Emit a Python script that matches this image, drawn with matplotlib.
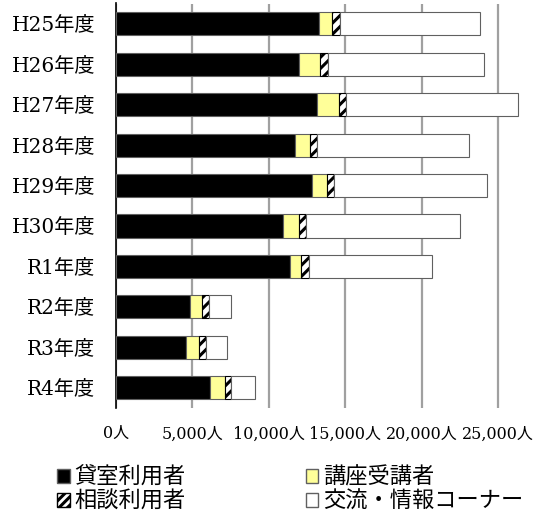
import matplotlib
matplotlib.use("Agg")
import matplotlib.pyplot as plt
from matplotlib.patches import Patch
import numpy as np

plt.rcParams['font.family'] = ['DejaVu Serif', 'Noto Sans CJK JP', 'DejaVu Sans']
plt.rcParams['hatch.linewidth'] = 2.2

# data (people per year)
years = ['H25年度', 'H26年度', 'H27年度', 'H28年度', 'H29年度',
         'H30年度', 'R1年度', 'R2年度', 'R3年度', 'R4年度']
rental = [13300, 11980, 13130, 11735, 12825, 10905, 11365, 4865, 4600, 6150]
lecture = [800, 1350, 1440, 940, 960, 1070, 720, 740, 850, 960]
consult = [530, 550, 500, 455, 460, 460, 565, 480, 440, 415]
exchange = [9160, 10210, 11235, 9970, 10010, 10055, 8030, 1415, 1350, 1570]

series_names = ['貸室利用者', '講座受講者', '相談利用者', '交流・情報コーナー']
xticks = [0, 5000, 10000, 15000, 20000, 25000]
xtick_labels = ['0人', '5,000人', '10,000人', '15,000人', '20,000人', '25,000人']

fig = plt.figure(figsize=(5.42, 5.20), dpi=100)
ax = fig.add_axes([116 / 542, 1 - 408 / 520, (541 - 116) / 542, (408 - 3.5) / 520])

y = np.arange(len(years))
h = 0.57
edge = '#606060'
left = np.zeros(len(years))
ax.barh(y, rental, h, left=left, color='black', edgecolor=edge, linewidth=0.8, zorder=3)
left += rental
ax.barh(y, lecture, h, left=left, color='#ffff99', edgecolor=edge, linewidth=0.8, zorder=3)
left += lecture
ax.barh(y, consult, h, left=left, color='white', edgecolor='black', hatch='///',
        linewidth=0.8, zorder=3)
left += consult
ax.barh(y, exchange, h, left=left, color='white', edgecolor=edge, linewidth=0.8, zorder=3)

ax.set_ylim(len(years) - 0.5, -0.5)
ax.set_xlim(0, 27800)
ax.set_yticks(y)
ax.set_yticklabels(years, fontsize=14.5)
ax.set_xticks(xticks)
ax.set_xticklabels(xtick_labels, fontsize=11.5)
ax.tick_params(axis='y', length=0, pad=15)
ax.tick_params(axis='x', length=0, pad=12.5)
ax.xaxis.grid(True, color='#a0a0a0', linewidth=1.6, zorder=0)
ax.set_axisbelow(True)
for s in ['top', 'right', 'bottom']:
    ax.spines[s].set_visible(False)
ax.spines['left'].set_color('black')
ax.spines['left'].set_linewidth(1.2)

handles = [
    Patch(facecolor='black', edgecolor=edge, label=series_names[0]),
    Patch(facecolor='white', edgecolor='black', hatch='////', label=series_names[2]),
    Patch(facecolor='#ffff99', edgecolor=edge, label=series_names[1]),
    Patch(facecolor='white', edgecolor=edge, label=series_names[3]),
]
fig.legend(handles=handles, ncol=2, loc='upper left', bbox_to_anchor=(57 / 542, 1 - 466 / 520),
           frameon=False, prop={'family': ['Noto Sans CJK JP'], 'size': 16},
           handlelength=0.57, handleheight=0.57, handletextpad=0.22,
           columnspacing=5.4, labelspacing=0.05, borderaxespad=0, borderpad=0)

fig.savefig('out.png', dpi=100)
